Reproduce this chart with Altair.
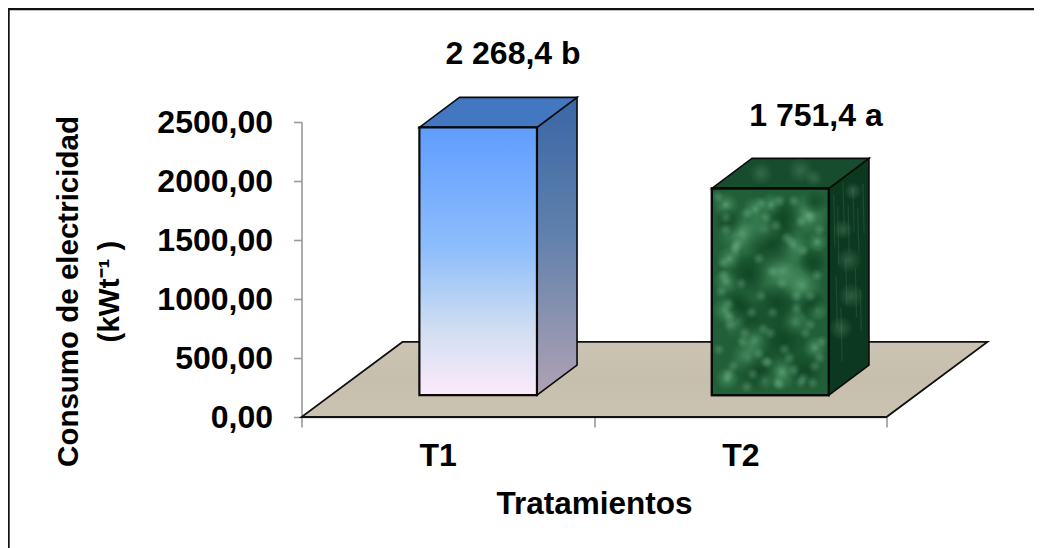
import altair as alt
import pandas as pd

FONT = "Liberation Sans"
categories = ["T1", "T2"]
cat_x = [0.467, 1.502]
cat_y = [-415, -415]
values = [2268.4, 1751.4]
value_labels = ["2 268,4 b", "1 751,4 a"]
label_x = [0.723, 1.759]
label_y = [2992, 2466]
bar_left = [0.403, 1.403]
bar_right = [0.805, 1.803]
y_ticks = [0, 500, 1000, 1500, 2000, 2500]

base = 186
depth_y = 254
depth_x = 0.137
floor_top = 636
floor_dx = 0.345

# marble texture patches of the T2 block: fraction across, fraction down, diameter
light_u = [.26,.60,.15,.82,.12,.51,.90,.12,.37,.77,.12,.71,.37,.31,.60,.88,.13,.90,.22,.45,.45,.70]
light_v = [.22,.40,.34,.13,.08,.08,.26,.45,.10,.47,.59,.65,.73,.82,.89,.77,.92,.59,.65,.93,.20,.28]
light_d = [52,60,26,46,26,24,22,26,26,42,28,30,36,36,36,24,24,22,32,18,36,34]
dark_u = [.51,.88,.31,.15,.62,.86,.60,.31,.79,.56,.85,.22,.39]
dark_v = [.27,.07,.41,.16,.14,.36,.73,.64,.88,.56,.56,.56,.88]
dark_d = [56,24,40,30,38,30,60,44,40,44,30,30,44]
# fine speckles, as fractions of the block's face
speck_u = [.05,.12,.20,.30,.08,.40,.55,.70,.78,.90,.15,.28,.42,.60,.72,.06,.18,.35,.50,.66,.84,.10,.25,.46,.58,.76,.92,.34,.64,.48,
           .12,.22,.10,.42,.16,.52,.68,.84,.92,.84,.26,.40,.52,.72,.80,.14,.30,.46,.62,.78,.94,.20,.14,.58,.70,.88,.86,.44,.76,.56]
speck_v = [.04,.20,.30,.12,.50,.34,.18,.06,.30,.42,.62,.70,.52,.46,.58,.78,.86,.90,.70,.82,.66,.36,.46,.14,.95,.94,.82,.60,.24,.84,
           .14,.27,.42,.07,.66,.40,.26,.14,.20,.52,.74,.80,.60,.52,.70,.90,.96,.84,.78,.92,.74,.28,.56,.06,.88,.86,.94,.68,.16,.94]
side_u = [.35,.50,.55,.30,.60]
side_v = [.25,.42,.60,.72,.10]
side_d = [20,26,26,24,18]
# streaks on the T2 side face: across, from and to (fractions)
streak_u = [.12,.22,.35,.48,.60,.72,.85,.18,.42,.66,.30,.78]
streak_a = [.05,.12,.02,.15,.08,.20,.10,.45,.40,.48,.62,.60]
streak_b = [.30,.40,.22,.38,.30,.42,.34,.70,.62,.72,.88,.80]
top_u = [.25,.55,.75]
top_v = [.50,.60,.35]
top_d = [24,26,18]

X = alt.Scale(domain=[0, 2], nice=False, zero=False)
Y = alt.Scale(domain=[0, 2500], nice=False, zero=False)


def grad(stops, radial=False):
    gs = [alt.GradientStop(color=c, offset=o) for o, c in stops]
    if radial:
        return alt.RadialGradient(gradient="radial", stops=gs, x1=.5, y1=.5, x2=.5, y2=.5, r1=0, r2=.5)
    return alt.LinearGradient(gradient="linear", stops=gs, x1=0, y1=0, x2=0, y2=1)


def xe(f="x"):
    return alt.X(f"{f}:Q", scale=X, axis=None)


def ye(f="y"):
    return alt.Y(f"{f}:Q", scale=Y, axis=None)


def front(x0, x1, y0, y1, fill):
    d = pd.DataFrame({"x": [x0], "x2": [x1], "y": [y0], "y2": [y1]})
    return alt.Chart(d).mark_rect(fill=fill, stroke="#0a0a0a", strokeWidth=2.2).encode(
        x=xe(), x2="x2:Q", y=ye(), y2="y2:Q")


def side(x1, y0, y1, fill):
    d = pd.DataFrame({"x": [x1, x1 + depth_x], "y": [y0, y0 + depth_y], "y2": [y1, y1 + depth_y]})
    return alt.Chart(d).mark_area(fill=fill, stroke="#0a0a0a", strokeWidth=1.6, orient="vertical").encode(
        x=xe(), y=ye(), y2="y2:Q")


def top(x0, x1, y1, fill):
    d = pd.DataFrame({"x": [x0, x0 + depth_x], "x2": [x1, x1 + depth_x], "y": [y1, y1 + depth_y]})
    return alt.Chart(d).mark_area(fill=fill, stroke="#0a0a0a", strokeWidth=1.6, orient="horizontal").encode(
        x=xe(), x2="x2:Q", y=ye())


def blobs(xs, ys, ds, fill):
    d = pd.DataFrame({"x": xs, "y": ys, "d": [v * v for v in ds]})
    return alt.Chart(d).mark_point(filled=True, fill=fill, opacity=1, strokeWidth=0, shape="circle").encode(
        x=xe(), y=ye(), size=alt.Size("d:Q", scale=None, legend=None))


def lines(xs, ys, xs2, ys2, color, opacity, width):
    d = pd.DataFrame({"x": xs, "y": ys, "x2": xs2, "y2": ys2})
    return alt.Chart(d).mark_rule(color=color, opacity=opacity, strokeWidth=width).encode(
        x=xe(), y=ye(), x2="x2:Q", y2="y2:Q")


floor = alt.Chart(pd.DataFrame({"x": [0, floor_dx], "x2": [2, 2 + floor_dx], "y": [0, floor_top]})).mark_area(
    fill=grad([(0, "#cbc4b4"), (.5, "#c6bfad"), (1, "#cbc3b2")]), stroke="#111111", strokeWidth=1.8, orient="horizontal"
).encode(x=xe(), x2="x2:Q", y=ye())

# T1
t1_top = values[0] + base
t1 = [
    side(bar_right[0], base, t1_top, grad([(0, "#3a66a6"), (.45, "#5f80ac"), (1, "#b0a2b4")])),
    top(bar_left[0], bar_right[0], t1_top, "#4477c2"),
    front(bar_left[0], bar_right[0], t1_top, base,
          grad([(0, "#5f9dff"), (.45, "#8dbdfb"), (.75, "#cfdef1"), (1, "#fdeafb")])),
]

# T2
t2_top = values[1] + base
x0, x1 = bar_left[1], bar_right[1]
w, h = x1 - x0, values[1]
LIGHT = grad([(0, "rgba(125,200,155,0.55)"), (.5, "rgba(95,170,120,0.28)"), (1, "rgba(90,165,115,0)")], True)
DARK = grad([(0, "rgba(5,55,25,0.6)"), (.5, "rgba(5,55,25,0.35)"), (1, "rgba(5,55,25,0)")], True)
SOFT = grad([(0, "rgba(90,150,110,0.4)"), (1, "rgba(90,150,110,0)")], True)
SPECK = grad([(0, "rgba(140,205,165,0.3)"), (1, "rgba(140,205,165,0)")], True)
t2 = [
    side(x1, base, t2_top, "#0d3820"),
    blobs([x1 + u * depth_x for u in side_u],
          [base + (1 - v) * h + u * depth_y for u, v in zip(side_u, side_v)], side_d, SOFT),
    lines([x1 + u * depth_x for u in streak_u],
          [base + (1 - a) * h + u * depth_y for u, a in zip(streak_u, streak_a)],
          [x1 + u * depth_x + .004 for u in streak_u],
          [base + (1 - b) * h + u * depth_y for u, b in zip(streak_u, streak_b)],
          "#4f9068", .22, 1.2),
    top(x0, x1, t2_top, "#174c2e"),
    blobs([x0 + u * w + v * depth_x for u, v in zip(top_u, top_v)],
          [t2_top + v * depth_y for v in top_v], top_d, SOFT),
    front(x0, x1, t2_top, base, "#215f38"),
    blobs([x0 + u * w for u in light_u], [base + (1 - v) * h for v in light_v], light_d, LIGHT),
    blobs([x0 + u * w for u in dark_u], [base + (1 - v) * h for v in dark_v], dark_d, DARK),
    blobs([x0 + u * w for u in speck_u], [base + (1 - v) * h for v in speck_v], [13] * len(speck_u), SPECK),
    front(x0, x1, t2_top, base, "transparent"),
]

labels = alt.Chart(pd.DataFrame({"x": label_x, "y": label_y, "t": value_labels})).mark_text(
    font=FONT, fontWeight="bold", fontSize=32, color="black", align="center", baseline="alphabetic", clip=False
).encode(x=xe(), y=ye(), text="t:N")

cat_labels = alt.Chart(pd.DataFrame({"x": cat_x, "y": cat_y, "t": categories})).mark_text(
    font=FONT, fontWeight="bold", fontSize=32, color="black", align="center", baseline="alphabetic", clip=False
).encode(x=xe(), y=ye(), text="t:N")

y_axis = alt.Chart(pd.DataFrame({"y": y_ticks})).mark_point(opacity=0).encode(
    y=alt.Y("y:Q", scale=Y, axis=alt.Axis(
        values=y_ticks, grid=False, tickSize=8, domainColor="#999999", tickColor="#999999",
        domainWidth=1.6, tickWidth=1.6, labelPadding=21, labelFont=FONT, labelFontWeight="bold",
        labelFontSize=32, labelColor="black", labelExpr="replace(format(datum.value,'.2f'),'.',',')",
        title=["Consumo de electricidad", "(kWt\u207b\u00b9 )\u00a0\u00a0"], titleFont=FONT, titleFontWeight="bold",
        titleFontSize=29.5, titleColor="black", titleLineHeight=41, titleAngle=270,
        titleBaseline="alphabetic", titleAnchor="middle", titleX=-224, titleY=169)))

x_axis = alt.Chart(pd.DataFrame({"c": categories})).mark_point(opacity=0).encode(
    x=alt.X("c:N", scale=alt.Scale(paddingInner=0, paddingOuter=0), axis=alt.Axis(
        tickBand="extent", labels=False, grid=False, tickSize=10, domainColor="#999999", tickColor="#999999",
        domainWidth=1.6, tickWidth=1.6, title="Tratamientos", titleFont=FONT, titleFontWeight="bold",
        titleFontSize=31.5, titleColor="black", titleX=292.5, titleY=96, titleBaseline="alphabetic")))

frame_left = alt.Chart(pd.DataFrame({"a": [0]})).mark_rule(color="#111111", strokeWidth=2.4).encode(
    x=alt.value(-293), y=alt.value(-114), y2=alt.value(428))
frame_top = alt.Chart(pd.DataFrame({"a": [0]})).mark_rule(color="#111111", strokeWidth=2.4).encode(
    x=alt.value(-294), x2=alt.value(745), y=alt.value(-113))

chart = alt.layer(
    x_axis, y_axis, frame_left, frame_top, floor, *t1, *t2, labels, cat_labels
).resolve_scale(x="independent").resolve_axis(y="independent").properties(
    width=585, height=295, autosize=alt.AutoSizeParams(type="none"),
    padding={"left": 293.5, "top": 114, "right": 147.5, "bottom": 131}
).configure_view(stroke=None)

chart.save("out.html", embed_options={"renderer": "svg", "actions": False})
